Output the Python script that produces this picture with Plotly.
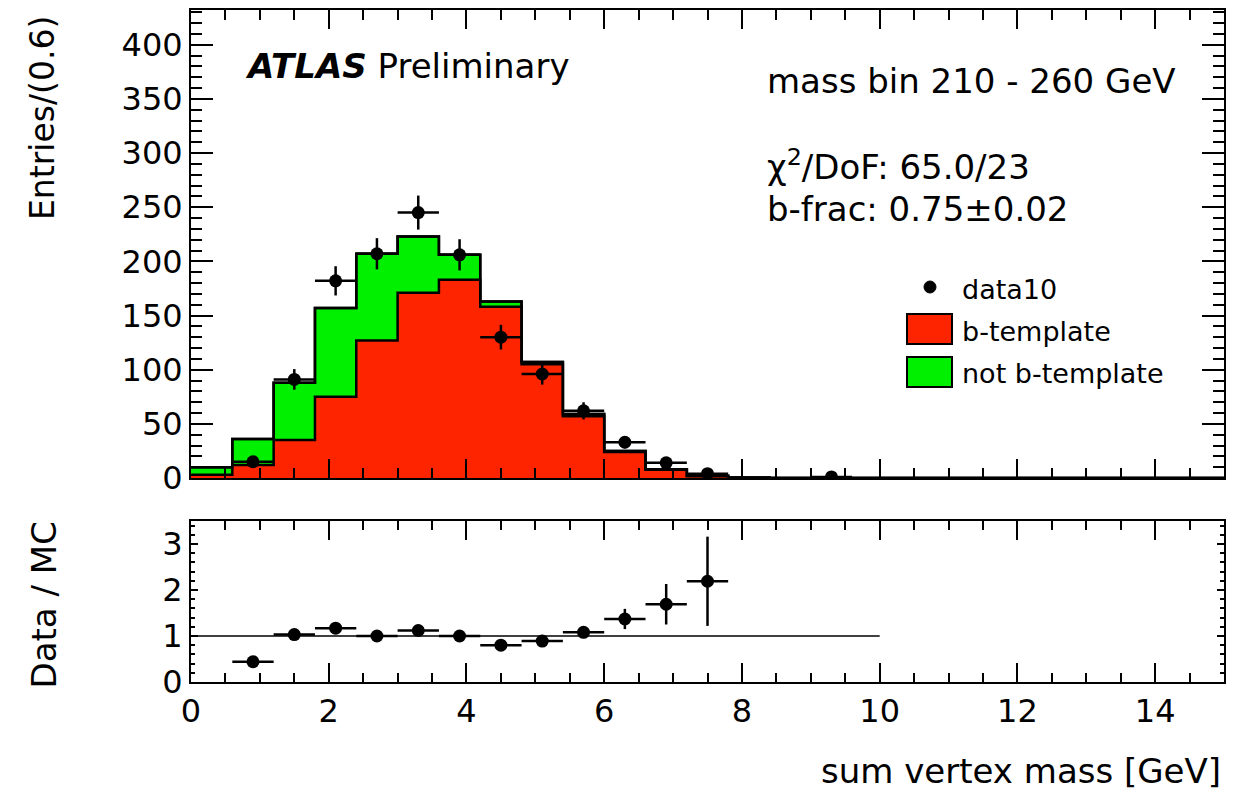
import plotly.graph_objects as go

# ---------------- data ----------------
bin_low_edges = [0.0, 0.6, 1.2, 1.8, 2.4, 3.0, 3.6, 4.2, 4.8, 5.4, 6.0, 6.6, 7.2,
                 7.8, 8.4, 9.0, 9.6, 10.2, 10.8, 11.4, 12.0, 12.6, 13.2, 13.8, 14.4]
x_max = 15.0
b_template = [3, 12, 35, 75, 127, 171, 183, 158, 105, 57, 24, 7.5, 1.5, 0.3,
              0, 0, 0, 0, 0, 0, 0, 0, 0, 0, 0]
not_b_template = [7, 24, 53, 82, 80, 52, 23, 5, 2, 2, 1, 0.5, 0.5, 0.2,
                  0, 0, 0, 0, 0, 0, 0, 0, 0, 0, 0]

data_x = [0.9, 1.5, 2.1, 2.7, 3.3, 3.9, 4.5, 5.1, 5.7, 6.3, 6.9, 7.5, 9.3]
data_y = [15, 91, 182, 207, 245, 206, 130, 96, 62, 33, 14, 4, 1]
data_err = [3.9, 9.5, 13.5, 14.4, 15.7, 14.4, 11.4, 9.8, 7.9, 5.7, 3.7, 2.0, 1.0]
half_bin = 0.3

ratio_x = [0.9, 1.5, 2.1, 2.7, 3.3, 3.9, 4.5, 5.1, 5.7, 6.3, 6.9, 7.5]
ratio_y = [0.44, 1.03, 1.17, 1.00, 1.12, 1.00, 0.80, 0.89, 1.08, 1.37, 1.69, 2.19]
ratio_err = [0.11, 0.11, 0.09, 0.07, 0.07, 0.07, 0.07, 0.09, 0.11, 0.22, 0.44, 0.97]
ref_line_x = [0, 10]
ref_value = 1

# ---------------- styling ----------------
RED = "#ff2400"
GREEN = "#00f000"
FONT = "DejaVu Sans"
W, H = 1254, 796
L, R, T, B = 191, 1224, 10, 682  # plot frame in pixels


def px_x(p):
    return (p - L) / (R - L)


def px_y(p):
    return (B - p) / (B - T)


edges = bin_low_edges + [x_max]
total = [r + g for r, g in zip(b_template, not_b_template)]
step_total = total + [total[-1]]
step_red = b_template + [b_template[-1]]

fig = go.Figure()
fig.add_trace(go.Scatter(x=edges, y=step_total, mode="lines", line_shape="hv",
                         fill="tozeroy", fillcolor=GREEN,
                         line=dict(color="black", width=2.5), showlegend=False,
                         xaxis="x", yaxis="y"))
fig.add_trace(go.Scatter(x=edges, y=step_red, mode="lines", line_shape="hv",
                         fill="tozeroy", fillcolor=RED,
                         line=dict(color="black", width=2.5), showlegend=False,
                         xaxis="x", yaxis="y"))
fig.add_trace(go.Scatter(x=edges, y=step_total, mode="lines", line_shape="hv",
                         line=dict(color="black", width=2.5), showlegend=False,
                         xaxis="x", yaxis="y"))
fig.add_trace(go.Scatter(x=data_x, y=data_y, mode="markers",
                         marker=dict(color="black", size=13),
                         error_y=dict(type="data", array=data_err, thickness=2.5,
                                      width=0, color="black"),
                         error_x=dict(type="constant", value=half_bin, thickness=2.5,
                                      width=0, color="black"),
                         showlegend=False, xaxis="x", yaxis="y"))

fig.add_trace(go.Scatter(x=ref_line_x, y=[ref_value, ref_value], mode="lines",
                         line=dict(color="black", width=1.5), showlegend=False,
                         xaxis="x2", yaxis="y2"))
fig.add_trace(go.Scatter(x=ratio_x, y=ratio_y, mode="markers",
                         marker=dict(color="black", size=13),
                         error_y=dict(type="data", array=ratio_err, thickness=2.5,
                                      width=0, color="black"),
                         error_x=dict(type="constant", value=half_bin, thickness=2.5,
                                      width=0, color="black"),
                         showlegend=False, xaxis="x2", yaxis="y2"))

top_bottom = px_y(478)
bot_top = px_y(521)

common_axis = dict(showline=True, linecolor="black", linewidth=2, mirror="allticks",
                   showgrid=False, zeroline=False, ticks="inside", tickcolor="black",
                   tickwidth=2, automargin=False,
                   tickfont=dict(family=FONT, size=32, color="black"))

fig.update_layout(
    width=W, height=H,
    margin=dict(l=L, r=W - R, t=T, b=H - B, pad=0),
    paper_bgcolor="white", plot_bgcolor="white",
    showlegend=False,
    xaxis=dict(common_axis, domain=[0, 1], range=[0, 15], anchor="y", matches="x2",
               showticklabels=False, dtick=2, ticklen=19,
               minor=dict(dtick=0.5, ticklen=10, ticks="inside", tickwidth=1.5,
                          tickcolor="black", showgrid=False)),
    yaxis=dict(common_axis, domain=[top_bottom, 1], range=[0, 432], anchor="x",
               dtick=50, ticklen=22,
               minor=dict(dtick=10, ticklen=11, ticks="inside", tickwidth=1.5,
                          tickcolor="black", showgrid=False)),
    xaxis2=dict(common_axis, domain=[0, 1], range=[0, 15], anchor="y2",
                dtick=2, ticklen=19,
                minor=dict(dtick=0.5, ticklen=9, ticks="inside", tickwidth=1.5,
                           tickcolor="black", showgrid=False)),
    yaxis2=dict(common_axis, domain=[0, bot_top], range=[0, 3.5], anchor="x2",
                dtick=1, ticklen=7,
                minor=dict(dtick=0.2, ticklen=4, ticks="inside", tickwidth=1.5,
                           tickcolor="black", showgrid=False)),
)

annots = [
    dict(text="<b><i>ATLAS</i></b> Preliminary", x=px_x(243), y=px_y(66),
         xanchor="left", yanchor="middle", size=34),
    dict(text="mass bin 210 - 260 GeV", x=px_x(765), y=px_y(81),
         xanchor="left", yanchor="middle", size=34),
    dict(text="\u03c7<sup>2</sup>/DoF: 65.0/23", x=px_x(765), y=px_y(165),
         xanchor="left", yanchor="middle", size=34),
    dict(text="b-frac: 0.75\u00b10.02", x=px_x(765), y=px_y(209),
         xanchor="left", yanchor="middle", size=34),
    dict(text="data10", x=px_x(960), y=px_y(289),
         xanchor="left", yanchor="middle", size=27),
    dict(text="b-template", x=px_x(960), y=px_y(331),
         xanchor="left", yanchor="middle", size=27),
    dict(text="not b-template", x=px_x(960), y=px_y(373),
         xanchor="left", yanchor="middle", size=27),
    dict(text="sum vertex mass [GeV]", x=px_x(1223), y=px_y(771),
         xanchor="right", yanchor="middle", size=34),
]
for a in annots:
    size = a.pop("size")
    fig.add_annotation(xref="paper", yref="paper", showarrow=False,
                       font=dict(family=FONT, size=size, color="black"), **a)

fig.add_annotation(text="Entries/(0.6)", xref="paper", yref="paper", showarrow=False,
                   x=px_x(43), y=px_y(14), xanchor="center", yanchor="top",
                   textangle=-90, font=dict(family=FONT, size=33, color="black"))
fig.add_annotation(text="Data / MC", xref="paper", yref="paper", showarrow=False,
                   x=px_x(43), y=px_y(520), xanchor="center", yanchor="top",
                   textangle=-90, font=dict(family=FONT, size=34, color="black"))

# custom legend swatches
fig.add_shape(type="circle", xref="paper", yref="paper",
              x0=px_x(924), x1=px_x(936), y0=px_y(293), y1=px_y(281),
              fillcolor="black", line=dict(color="black", width=1))
fig.add_shape(type="rect", xref="paper", yref="paper",
              x0=px_x(907), x1=px_x(952), y0=px_y(344), y1=px_y(314),
              fillcolor=RED, line=dict(color="black", width=2))
fig.add_shape(type="rect", xref="paper", yref="paper",
              x0=px_x(907), x1=px_x(952), y0=px_y(387), y1=px_y(357),
              fillcolor=GREEN, line=dict(color="black", width=2))

fig.write_html("out.html")
